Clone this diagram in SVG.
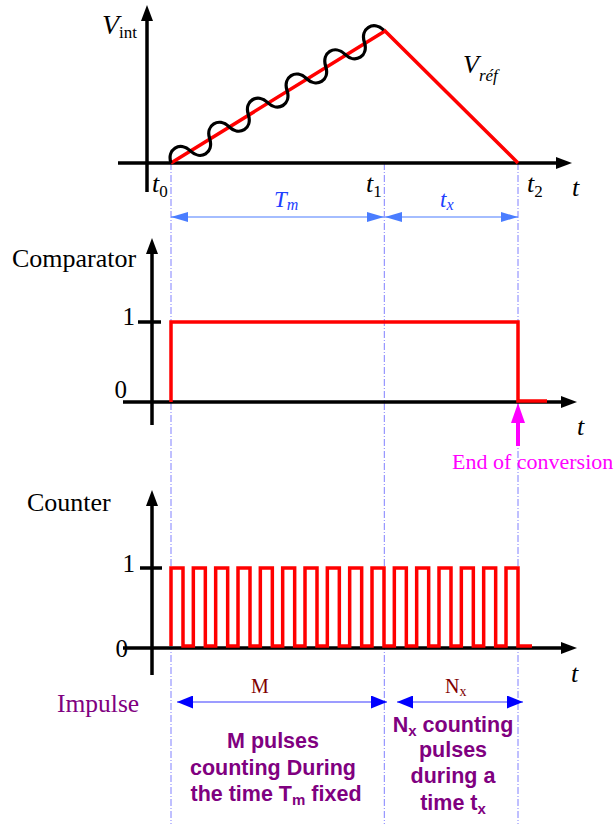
<svg xmlns="http://www.w3.org/2000/svg" width="616" height="824" viewBox="0 0 616 824">
<style>
.ax{stroke:#000;stroke-width:3.5;fill:none}
.sig{stroke:#ff0000;stroke-width:3.5;fill:none;stroke-linejoin:miter}
.serif{font-family:"Liberation Serif","Times New Roman",serif;fill:#000}
.it{font-style:italic}
.guide{stroke:#8080ff;stroke-width:1;stroke-dasharray:7,2,1,2;fill:none}
.dimL{stroke:#4a7dff;stroke-width:1.2;fill:none}
.dimB{stroke:#3a3aff;stroke-width:1.2;fill:none}
.bold{font-family:"Liberation Sans",Arial,sans-serif;font-weight:bold;fill:#800080;font-size:21.5px;text-anchor:middle}
</style>
<defs>
<marker id="axh" viewBox="0 0 16 12" refX="8" refY="6" markerWidth="16" markerHeight="12" markerUnits="userSpaceOnUse" orient="auto"><path d="M0,0 L16,6 L0,12 Z" fill="#000"/></marker>
<marker id="hl" viewBox="0 0 17 10" refX="17" refY="5" markerWidth="17" markerHeight="10" markerUnits="userSpaceOnUse" orient="auto-start-reverse"><path d="M0,0 L17,5 L0,10 Z" fill="#4a7dff"/></marker>
<marker id="hb" viewBox="0 0 16 13" refX="16" refY="6.5" markerWidth="16" markerHeight="13" markerUnits="userSpaceOnUse" orient="auto-start-reverse"><path d="M0,0 L16,6.5 L0,13 Z" fill="#0000ff"/></marker>
</defs>

<g id="connectors">
<line class="guide" x1="171" y1="163" x2="171" y2="824"/>
<line class="guide" x1="384.3" y1="163" x2="384.3" y2="824"/>
<line class="guide" x1="518" y1="163" x2="518" y2="824"/>
<line class="dimL" x1="171" y1="217" x2="384" y2="217" marker-start="url(#hl)" marker-end="url(#hl)"/>
<line class="dimL" x1="385" y1="217" x2="518" y2="217" marker-start="url(#hl)" marker-end="url(#hl)"/>
<line class="dimB" x1="177" y1="702" x2="387" y2="702" marker-start="url(#hb)" marker-end="url(#hb)"/>
<line class="dimB" x1="397" y1="702" x2="523" y2="702" marker-start="url(#hb)" marker-end="url(#hb)"/>
<g id="end-arrow">
<line x1="518" y1="420" x2="518" y2="446" stroke="#ff00ff" stroke-width="4"/>
<path d="M518,403 L525,423 L511,423 Z" fill="#ff00ff"/>
</g>
</g>

<g id="vint-graph">
<line class="ax" x1="147" y1="192" x2="147" y2="13" marker-end="url(#axh)"/>
<line class="ax" x1="118" y1="163" x2="564" y2="163" marker-end="url(#axh)"/>
<path class="sig" d="M171,163 L385,31 L518,163"/>
<path transform="translate(171,163) rotate(-31.98)" fill="none" stroke="#000" stroke-width="3.3" d="M0,0 C3.5,-14 19.3,-14 22.8,0 S42.1,14 45.6,0 S64.9,-14 68.4,0 S87.7,14 91.2,0 S110.5,-14 114,0 S133.3,14 136.8,0 S156.1,-14 159.6,0 S178.9,14 182.4,0 S201.7,-14 205.2,0 S224.5,14 228,0 S247.3,-14 250.8,0"/>
<text class="serif" x="102" y="34"><tspan class="it" font-size="28">V</tspan><tspan font-size="17" dy="4">int</tspan></text>
<text class="serif" x="463" y="73"><tspan class="it" font-size="26">V</tspan><tspan class="it" font-size="17" dy="8">réf</tspan></text>
<text class="serif" x="152" y="192"><tspan class="it" font-size="26">t</tspan><tspan font-size="17" dy="5">0</tspan></text>
<text class="serif" x="366" y="192"><tspan class="it" font-size="26">t</tspan><tspan font-size="17" dy="5">1</tspan></text>
<text class="serif" x="527" y="192"><tspan class="it" font-size="26">t</tspan><tspan font-size="17" dy="5">2</tspan></text>
<text class="serif it" x="572" y="196" font-size="26">t</text>
<text class="serif" x="274" y="207" style="fill:#2040ff"><tspan class="it" font-size="23">T</tspan><tspan class="it" font-size="16" dy="3">m</tspan></text>
<text class="serif" x="440" y="207" style="fill:#2040ff"><tspan class="it" font-size="23">t</tspan><tspan class="it" font-size="16" dy="3">x</tspan></text>
</g>

<g id="comparator-graph">
<line class="ax" x1="152" y1="425" x2="152" y2="246" marker-end="url(#axh)"/>
<line class="ax" x1="123" y1="402" x2="569" y2="402" marker-end="url(#axh)"/>
<line class="ax" x1="138" y1="322" x2="161" y2="322"/>
<path class="sig" d="M171,402 V322 H518 V401 H547"/>
<text class="serif" x="12" y="267" font-size="26">Comparator</text>
<text class="serif" x="135" y="325" font-size="25" text-anchor="end">1</text>
<text class="serif" x="127" y="398" font-size="25" text-anchor="end">0</text>
<text class="serif it" x="577" y="435" font-size="26">t</text>
<text class="serif" x="452" y="469" font-size="22" style="fill:#ff00ff">End of conversion</text>
</g>

<g id="counter-graph">
<line class="ax" x1="152" y1="675" x2="152" y2="498" marker-end="url(#axh)"/>
<line class="ax" x1="123" y1="648" x2="569" y2="648" marker-end="url(#axh)"/>
<line class="ax" x1="140" y1="568" x2="162" y2="568"/>
<path class="sig" d="M171,646 V568 H183 V646 H193.33 V568 H205.33 V646 H215.67 V568 H227.67 V646 H238 V568 H250 V646 H260.33 V568 H272.33 V646 H282.67 V568 H294.67 V646 H305 V568 H317 V646 H327.33 V568 H339.33 V646 H349.67 V568 H361.67 V646 H372 V568 H384 V646 H394.33 V568 H406.33 V646 H416.67 V568 H428.67 V646 H439 V568 H451 V646 H461.33 V568 H473.33 V646 H483.67 V568 H495.67 V646 H506 V568 H518 V646 H532"/>
<text class="serif" x="27" y="511" font-size="26">Counter</text>
<text class="serif" x="135" y="572" font-size="25" text-anchor="end">1</text>
<text class="serif" x="128" y="657" font-size="25" text-anchor="end">0</text>
<text class="serif it" x="571" y="682" font-size="26">t</text>
<text class="serif" x="57" y="712" font-size="25.5" style="fill:#800080">Impulse</text>
<text class="serif" x="260" y="693" font-size="20" text-anchor="middle" style="fill:#800000">M</text>
<text class="serif" x="445" y="693" style="fill:#800000"><tspan font-size="20">N</tspan><tspan font-size="14" dy="3">x</tspan></text>
</g>

<g id="m-text">
<text class="bold" x="273" y="748">M pulses</text>
<text class="bold" x="273" y="775">counting During</text>
<text class="bold" x="276" y="801">the time T<tspan font-size="15" dy="4">m</tspan><tspan dy="-4"> fixed</tspan></text>
</g>

<g id="nx-text">
<text class="bold" x="453" y="732">N<tspan font-size="15" dy="4">x</tspan><tspan dy="-4"> counting</tspan></text>
<text class="bold" x="453" y="757">pulses</text>
<text class="bold" x="453" y="783">during a</text>
<text class="bold" x="453" y="810">time t<tspan font-size="15" dy="4">x</tspan></text>
</g>
</svg>
